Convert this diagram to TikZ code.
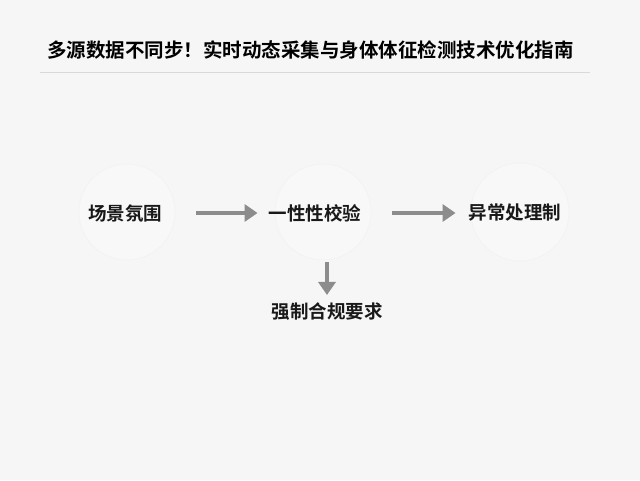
\documentclass[tikz,border=0pt]{standalone}
\usepackage{fontspec}
\newfontfamily\cjk{Noto Sans CJK SC}[BoldFont={Noto Sans CJK SC Bold}]
\usetikzlibrary{arrows.meta}
\definecolor{bgcol}{HTML}{F6F6F6}
\definecolor{rulecol}{HTML}{D9D9D9}
\definecolor{arrcol}{HTML}{8C8C8C}
\definecolor{ringcol}{HTML}{F1F1F1}
\tikzset{
  label/.style={font=\cjk\bfseries\fontsize{18.5}{20}\selectfont, text=black!90, inner sep=0pt},
  ring/.style={draw=ringcol, fill=white!25!bgcol, line width=0.5pt},
  flow/.style={draw=arrcol, line width=4pt, -{Triangle[width=17pt,length=13pt]}},
}
\begin{document}
\begin{tikzpicture}[x=1pt,y=-1pt]
    \fill[bgcol] (0,0) rectangle (640,480);
    \useasboundingbox (0,0) rectangle (640,480);
    %% title and rule
    \node[font=\cjk\bfseries\fontsize{19.5}{22}\selectfont, anchor=west, inner sep=0pt] (title) at (47,50) {多源数据不同步！实时动态采集与身体体征检测技术优化指南};
    \draw[rulecol, line width=0.8pt] (40,72) -- (590,72);
    %% faint rings behind the three steps
    \draw[ring] (127,212) circle (48);
    \draw[ring] (323,212) circle (48);
    \draw[ring] (520,212) circle (49);
    %% steps
    \node[label] (scene) at (125,213) {场景氛围};
    \node[label] (check) at (315,213) {一性性校验};
    \node[label] (abnormal) at (515,213) {异常处理制};
    \node[label] (rule) at (327,312) {强制合规要求};
    %% arrows
    \draw[flow, shorten <=34pt, shorten >=11pt] (scene) -- (check);
    \draw[flow, shorten <=31pt, shorten >=13pt] (check) -- (abnormal);
    \draw[flow, shorten <=40pt, shorten >=8pt] (check.south -| rule) -- (rule);
\end{tikzpicture}
\end{document}
